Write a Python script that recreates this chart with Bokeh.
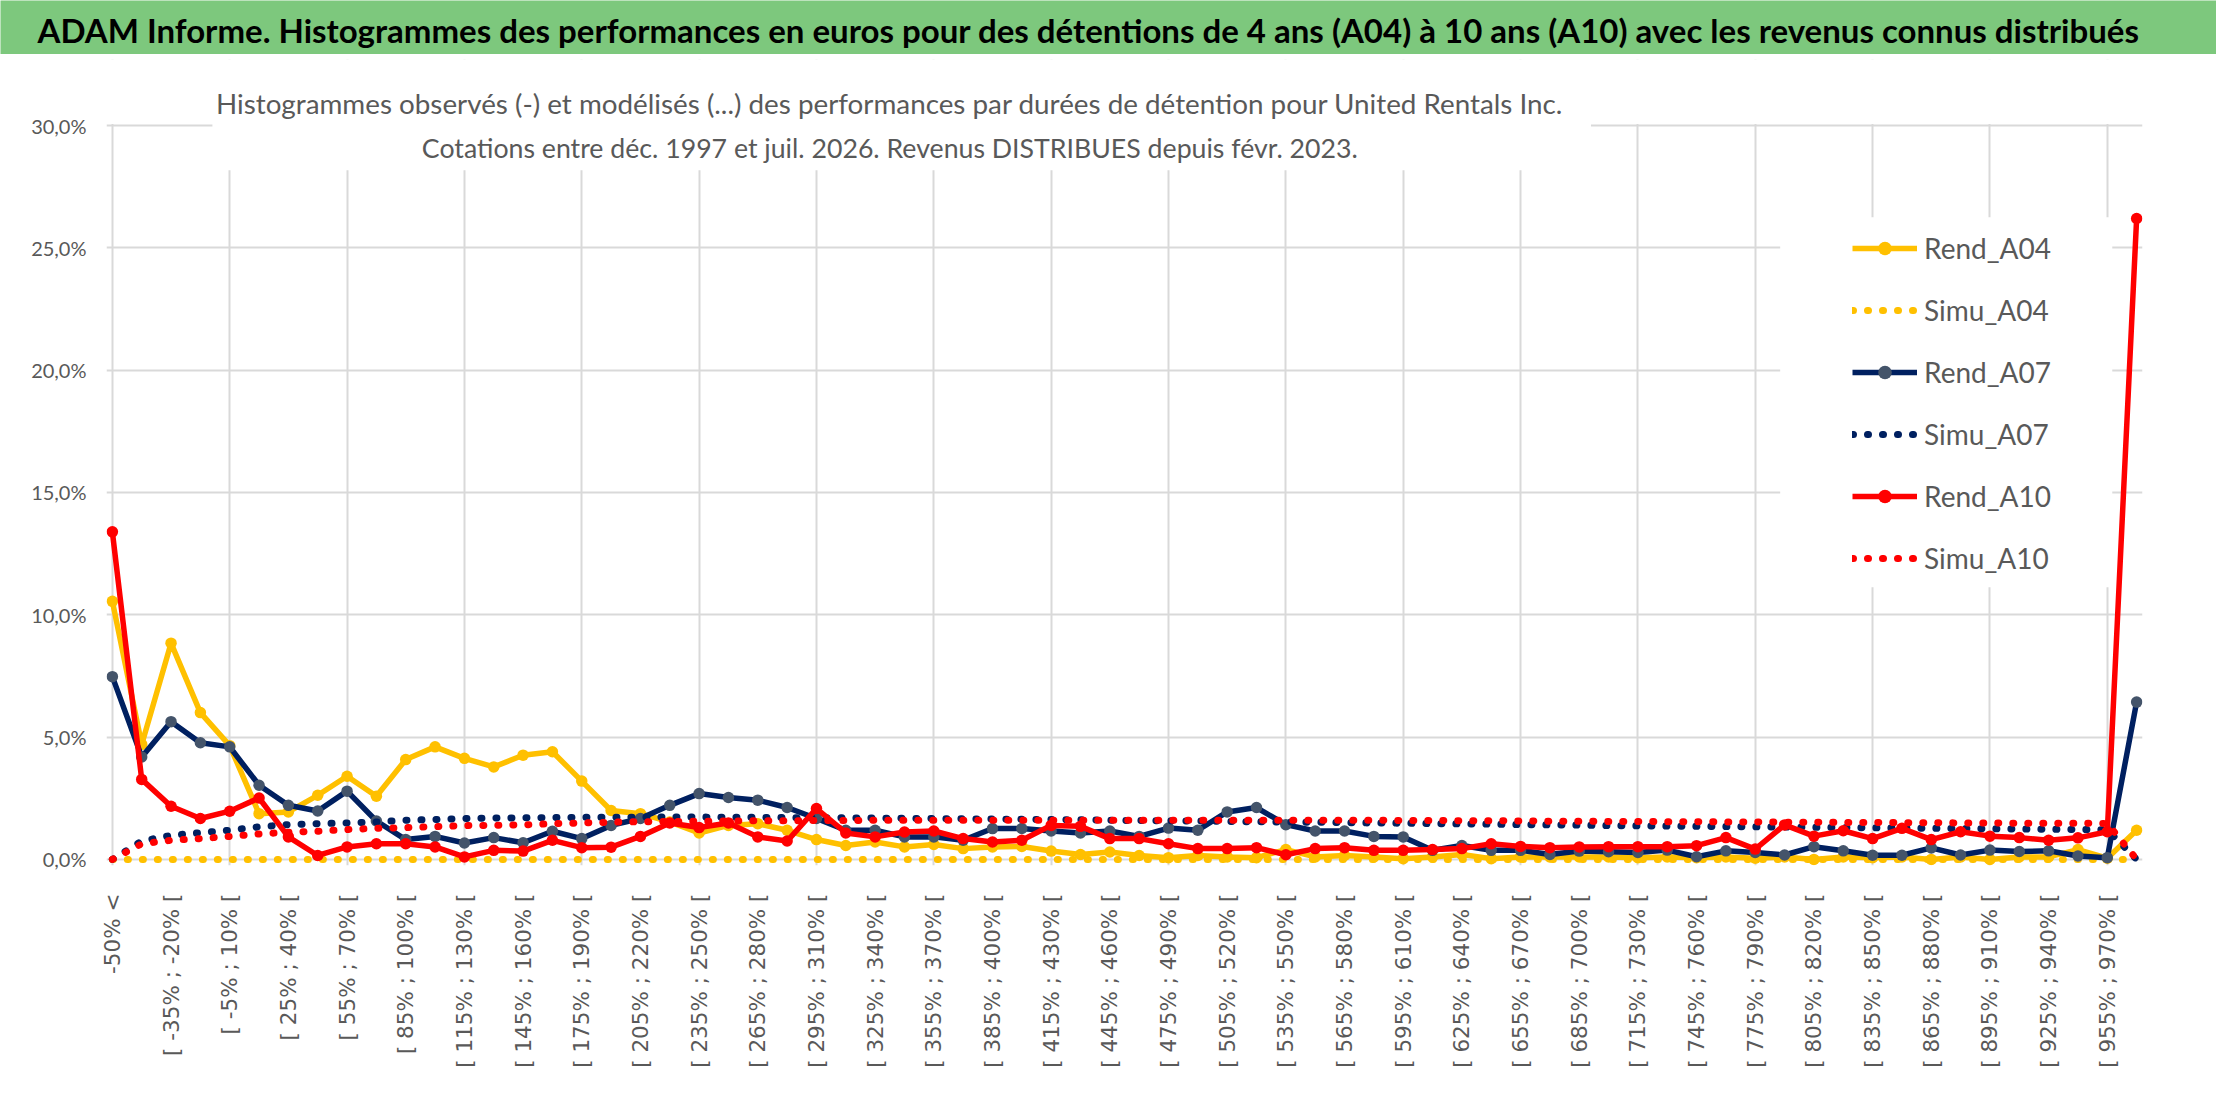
import math

from bokeh.embed import file_html
from bokeh.layouts import column
from bokeh.models import BoxAnnotation, FixedTicker, Label, Legend, LegendItem, Range1d
from bokeh.plotting import figure
from bokeh.resources import INLINE

# --- textes ---
titre = ("ADAM Informe. Histogrammes des performances en euros pour des détentions "
         "de 4 ans (A04) à 10 ans (A10) avec les revenus connus distribués")
sous_titre_1 = ("Histogrammes observés (-) et modélisés (...) des performances par durées "
                "de détention pour United Rentals Inc.")
sous_titre_2 = "Cotations entre déc. 1997 et juil. 2026. Revenus DISTRIBUES depuis févr. 2023."

# --- catégories (classes de performance) ---
categories = ["-50% <"] + [f"[ {lo}% ; {lo + 15}% [" for lo in range(-50, 971, 15)]

# --- séries (en %) ---
rend_a04 = [10.55, 4.70, 8.84, 6.00, 4.65, 1.87, 1.94, 2.62, 3.40, 2.58,
            4.08, 4.60, 4.13, 3.78, 4.26, 4.40, 3.20, 2.00, 1.87, 1.53,
            1.08, 1.39, 1.46, 1.19, 0.81, 0.57, 0.71, 0.51, 0.61, 0.44,
            0.51, 0.53, 0.34, 0.20, 0.30, 0.16, 0.07, 0.16, 0.10, 0.07,
            0.40, 0.10, 0.16, 0.10, 0.03, 0.10, 0.20, 0.03, 0.10, 0.10,
            0.10, 0.10, 0.07, 0.10, 0.07, 0.10, 0.05, 0.10, 0.00, 0.10,
            0.07, 0.10, 0.00, 0.10, 0.00, 0.10, 0.10, 0.40, 0.05, 1.19]

simu_a04 = [0.00, 0.00, 0.00, 0.00, 0.00, 0.00, 0.00, 0.00, 0.00, 0.00,
            0.00, 0.00, 0.00, 0.00, 0.00, 0.00, 0.00, 0.00, 0.00, 0.00,
            0.00, 0.00, 0.00, 0.00, 0.00, 0.00, 0.00, 0.00, 0.00, 0.00,
            0.00, 0.00, 0.00, 0.00, 0.00, 0.00, 0.00, 0.00, 0.00, 0.00,
            0.00, 0.00, 0.00, 0.00, 0.00, 0.00, 0.00, 0.00, 0.00, 0.00,
            0.00, 0.00, 0.00, 0.00, 0.00, 0.00, 0.00, 0.00, 0.00, 0.00,
            0.00, 0.00, 0.00, 0.00, 0.00, 0.00, 0.00, 0.00, 0.00, 0.00]

rend_a07 = [7.47, 4.19, 5.63, 4.77, 4.60, 3.03, 2.21, 1.98, 2.79, 1.57,
            0.81, 0.94, 0.67, 0.89, 0.68, 1.15, 0.85, 1.39, 1.67, 2.21,
            2.69, 2.53, 2.42, 2.12, 1.67, 1.19, 1.19, 0.92, 0.92, 0.78,
            1.26, 1.26, 1.16, 1.08, 1.16, 0.94, 1.28, 1.19, 1.94, 2.12,
            1.42, 1.16, 1.16, 0.94, 0.92, 0.37, 0.57, 0.37, 0.37, 0.20,
            0.34, 0.31, 0.28, 0.38, 0.11, 0.35, 0.28, 0.18, 0.52, 0.35,
            0.17, 0.17, 0.47, 0.18, 0.38, 0.32, 0.35, 0.14, 0.07, 6.43]

simu_a07 = [0.00, 0.75, 0.98, 1.09, 1.19, 1.33, 1.42, 1.46, 1.49, 1.53,
            1.60, 1.63, 1.67, 1.69, 1.70, 1.71, 1.72, 1.72, 1.73, 1.73,
            1.73, 1.72, 1.72, 1.71, 1.70, 1.70, 1.69, 1.68, 1.67, 1.66,
            1.65, 1.64, 1.63, 1.62, 1.60, 1.59, 1.58, 1.57, 1.55, 1.54,
            1.53, 1.52, 1.50, 1.49, 1.48, 1.46, 1.45, 1.44, 1.42, 1.41,
            1.40, 1.38, 1.37, 1.36, 1.35, 1.34, 1.33, 1.32, 1.31, 1.30,
            1.29, 1.28, 1.27, 1.26, 1.25, 1.24, 1.23, 1.22, 1.21, 0.00]

rend_a10 = [13.39, 3.27, 2.17, 1.67, 1.97, 2.51, 0.92, 0.16, 0.51, 0.64,
            0.64, 0.51, 0.10, 0.37, 0.34, 0.78, 0.48, 0.50, 0.94, 1.49,
            1.30, 1.49, 0.92, 0.75, 2.08, 1.08, 0.92, 1.12, 1.16, 0.85,
            0.71, 0.78, 1.39, 1.35, 0.85, 0.85, 0.64, 0.44, 0.44, 0.48,
            0.19, 0.44, 0.48, 0.37, 0.37, 0.40, 0.44, 0.64, 0.53, 0.48,
            0.51, 0.52, 0.52, 0.52, 0.56, 0.89, 0.42, 1.41, 0.95, 1.17,
            0.85, 1.27, 0.81, 1.13, 0.95, 0.89, 0.78, 0.88, 1.13, 26.20]

simu_a10 = [0.00, 0.64, 0.78, 0.85, 0.94, 1.04, 1.11, 1.15, 1.22, 1.27,
            1.30, 1.34, 1.38, 1.39, 1.41, 1.46, 1.49, 1.52, 1.54, 1.55,
            1.56, 1.57, 1.58, 1.58, 1.59, 1.59, 1.60, 1.60, 1.60, 1.60,
            1.60, 1.60, 1.60, 1.60, 1.60, 1.60, 1.60, 1.60, 1.60, 1.60,
            1.60, 1.60, 1.60, 1.60, 1.59, 1.59, 1.58, 1.58, 1.57, 1.56,
            1.56, 1.55, 1.55, 1.54, 1.54, 1.53, 1.53, 1.52, 1.52, 1.51,
            1.51, 1.50, 1.50, 1.49, 1.49, 1.48, 1.48, 1.48, 1.47, 0.00]

y_ticks = [0, 5, 10, 15, 20, 25, 30]

JAUNE = "#FFC000"
MARINE = "#002060"
MARINE_PT = "#44546A"
ROUGE = "#FF0000"
GRIS_TXT = "#595959"
GRIS_GRILLE = "#D9D9D9"
VERT = "#7DC87D"
POLICE = "Lato"

x = list(range(len(categories)))

# ============ bandeau titre ============
header = figure(width=2216, height=54, x_range=Range1d(0, 2216), y_range=Range1d(54, 0),
                x_axis_location=None, y_axis_location=None, toolbar_location=None,
                output_backend="svg", min_border=0, outline_line_color=None,
                background_fill_color=VERT, border_fill_color=VERT, frame_align=False)
header.grid.visible = False
header.add_layout(Label(x=37, y=29, text=titre, text_font=POLICE, text_font_style="bold",
                        text_font_size="33px", text_color="black", text_baseline="middle"))

# ============ graphique ============
# l'axe y monte au-dessus de 30 % pour loger la 1re ligne du sous-titre dans le cadre
p = figure(width=2216, height=1046, x_range=Range1d(-0.2, 69.2), y_range=Range1d(-0.25, 32.7),
           toolbar_location=None, output_backend="svg",
           min_border_left=106, min_border_right=74, min_border_top=5, min_border_bottom=235,
           outline_line_color=None, frame_align=False)

p.xaxis.ticker = FixedTicker(ticks=list(range(0, 69, 2)))
p.xaxis.major_label_overrides = {i: categories[i] for i in range(0, 69, 2)}
p.xaxis.major_label_orientation = math.pi / 2
p.xaxis.major_label_text_font = "DejaVu Sans"
p.xaxis.major_label_text_font_size = "21.5px"
p.xaxis.major_label_text_color = GRIS_TXT
p.xaxis.major_label_standoff = 22

p.yaxis.ticker = FixedTicker(ticks=y_ticks)
p.yaxis.major_label_overrides = {v: f"{v},0%" for v in y_ticks}
p.yaxis.major_label_text_font = POLICE
p.yaxis.major_label_text_font_size = "20px"
p.yaxis.major_label_text_color = GRIS_TXT
p.yaxis.major_label_standoff = 14

for ax in (p.xaxis, p.yaxis):
    ax.axis_line_color = None
    ax.major_tick_line_color = None
    ax.minor_tick_line_color = None

p.xgrid.ticker = FixedTicker(ticks=list(range(0, 69, 4)))
p.grid.grid_line_color = GRIS_GRILLE
p.grid.grid_line_width = 2

# séries
r04 = p.line(x, rend_a04, line_color=JAUNE, line_width=5.5, line_join="round")
m04 = p.scatter(x, rend_a04, size=11.5, fill_color=JAUNE, line_color=None)
s04 = p.line(x, simu_a04, line_color=JAUNE, line_width=7, line_dash="1 14", line_cap="round")

r07 = p.line(x, rend_a07, line_color=MARINE, line_width=5.5, line_join="round")
m07 = p.scatter(x, rend_a07, size=11.5, fill_color=MARINE_PT, line_color=None)
s07 = p.line(x, simu_a07, line_color=MARINE, line_width=7, line_dash="1 14", line_cap="round")

r10 = p.line(x, rend_a10, line_color=ROUGE, line_width=5.5, line_join="round")
m10 = p.scatter(x, rend_a10, size=11.5, fill_color=ROUGE, line_color=None)
s10 = p.line(x, simu_a10, line_color=ROUGE, line_width=7, line_dash="1 14", line_cap="round")

# fonds blancs : au-dessus de 30 %, sous-titre, légende
p.add_layout(BoxAnnotation(bottom=30.06, fill_color="white", fill_alpha=1, line_color=None))
p.add_layout(BoxAnnotation(left=3.41, right=50.4, bottom=28.17, top=30.2,
                           fill_color="white", fill_alpha=1, line_color=None))
p.add_layout(BoxAnnotation(left=56.85, right=68.17, bottom=11.12, top=26.25,
                           fill_color="white", fill_alpha=1, line_color=None))

p.add_layout(Label(x=26.5, y=30.90, text=sous_titre_1, text_align="center",
                   text_baseline="middle", text_font=POLICE, text_font_size="27.8px",
                   text_color=GRIS_TXT))
p.add_layout(Label(x=26.5, y=29.10, text=sous_titre_2, text_align="center",
                   text_baseline="middle", text_font=POLICE, text_font_size="26.7px",
                   text_color=GRIS_TXT))

legend = Legend(items=[
    LegendItem(label="Rend_A04", renderers=[r04, m04]),
    LegendItem(label="Simu_A04", renderers=[s04]),
    LegendItem(label="Rend_A07", renderers=[r07, m07]),
    LegendItem(label="Simu_A07", renderers=[s07]),
    LegendItem(label="Rend_A10", renderers=[r10, m10]),
    LegendItem(label="Simu_A10", renderers=[s10]),
], location=(1746, 290), padding=17, spacing=28, margin=0,
    glyph_width=65, glyph_height=34, label_height=34, label_standoff=7,
    label_text_font=POLICE, label_text_font_size="28px", label_text_color=GRIS_TXT,
    border_line_color=None, background_fill_color="white", background_fill_alpha=1.0)
p.add_layout(legend)

page = column(header, p)
open("out.html", "w").write(file_html(page, INLINE))
